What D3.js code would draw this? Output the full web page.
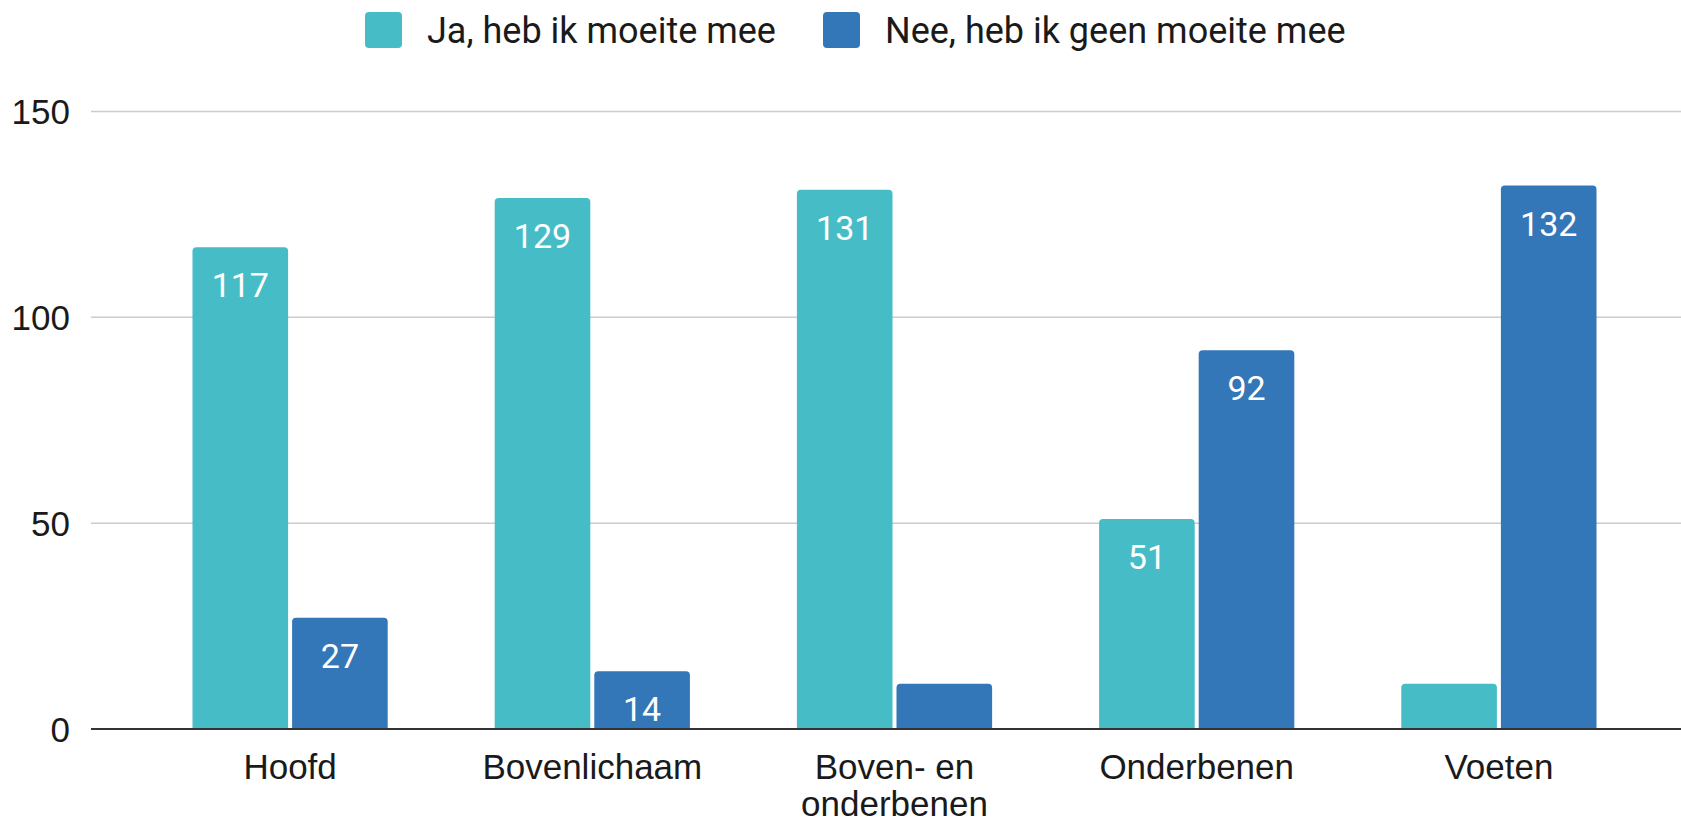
<!DOCTYPE html>
<html>
<head>
<meta charset="utf-8">
<script src="https://cdn.jsdelivr.net/npm/d3@7"></script>
<style>
  body { margin: 0; background: #fff; }
</style>
</head>
<body>
<div class="chart"></div>
<script>
const categories = ["Hoofd", "Bovenlichaam", "Boven- en onderbenen", "Onderbenen", "Voeten"];
const series = ["Ja, heb ik moeite mee", "Nee, heb ik geen moeite mee"];
const ja_values = [117, 129, 131, 51, 11];
const nee_values = [27, 14, 11, 92, 132];
const y_ticks = [0, 50, 100, 150];
// category labels broken over lines like the original
const label_lines = [["Hoofd"], ["Bovenlichaam"], ["Boven- en", "onderbenen"], ["Onderbenen"], ["Voeten"]];

const colors = ["#46bdc6", "#3377b9"];

const width = 1681;
const height = 825;
const svg = d3.select(".chart").append("svg").attr("width", width).attr("height", height);

const x_scale = d3.scaleBand().domain(categories).range([139, 1650]).paddingInner(0.354).paddingOuter(0.177);
const x_inner = d3.scaleBand().domain(series).range([0, x_scale.bandwidth()]).paddingInner(0.04);
const y_scale = d3.scaleLinear().domain([0, 150]).range([729, 111.5]);

// gridlines
svg.append("g")
    .selectAll("line")
    .data(y_ticks.filter(d => d > 0))
    .join("line")
    .attr("x1", 91)
    .attr("x2", width)
    .attr("y1", d => y_scale(d))
    .attr("y2", d => y_scale(d))
    .attr("stroke", "#cccccc")
    .attr("stroke-width", 1.5);

// y tick labels
svg.append("g")
    .selectAll("text")
    .data(y_ticks)
    .join("text")
    .attr("x", 70)
    .attr("y", d => y_scale(d))
    .attr("dy", "0.36em")
    .attr("text-anchor", "end")
    .attr("font-family", "Liberation Sans, Arial, sans-serif")
    .attr("font-size", 35)
    .attr("fill", "#1a1a1a")
    .text(d => d);

const rows = [];
categories.forEach((c, i) => {
    rows.push({cat: c, s: series[0], value: ja_values[i], color: colors[0]});
    rows.push({cat: c, s: series[1], value: nee_values[i], color: colors[1]});
});

svg.append("g")
    .selectAll("path")
    .data(rows)
    .join("path")
    .attr("d", d => {
        const x0 = x_scale(d.cat) + x_inner(d.s);
        const w = x_inner.bandwidth();
        const y0 = y_scale(d.value);
        const y1 = y_scale(0);
        const r = 4;
        return "M" + x0 + "," + y1 + "V" + (y0 + r) + "Q" + x0 + "," + y0 + " " + (x0 + r) + "," + y0 +
            "H" + (x0 + w - r) + "Q" + (x0 + w) + "," + y0 + " " + (x0 + w) + "," + (y0 + r) + "V" + y1 + "Z";
    })
    .attr("fill", d => d.color);

// value labels inside bars, only where they fit
svg.append("g")
    .selectAll("text")
    .data(rows.filter(d => y_scale(0) - y_scale(d.value) > 55))
    .join("text")
    .attr("x", d => x_scale(d.cat) + x_inner(d.s) + x_inner.bandwidth() / 2)
    .attr("y", d => y_scale(d.value) + 50)
    .attr("text-anchor", "middle")
    .attr("font-family", "Roboto, sans-serif")
    .attr("font-size", 34)
    .attr("fill", "white")
    .text(d => d.value);

// baseline
svg.append("line")
    .attr("x1", 91)
    .attr("x2", width)
    .attr("y1", y_scale(0))
    .attr("y2", y_scale(0))
    .attr("stroke", "#333")
    .attr("stroke-width", 2);

// x labels
const xl = svg.append("g")
    .selectAll("text")
    .data(categories)
    .join("text")
    .attr("x", d => x_scale(d) + x_scale.bandwidth() / 2)
    .attr("y", 779)
    .attr("text-anchor", "middle")
    .attr("font-family", "Liberation Sans, Arial, sans-serif")
    .attr("font-size", 35)
    .attr("fill", "#1a1a1a");
xl.selectAll("tspan")
    .data((d, i) => label_lines[i])
    .join("tspan")
    .attr("x", function () { return d3.select(this.parentNode).attr("x"); })
    .attr("dy", (d, i) => i === 0 ? 0 : 37)
    .text(d => d);

// legend
const legend_x = [365, 823];
const legend = svg.append("g")
    .selectAll("g")
    .data(series)
    .join("g")
    .attr("transform", (d, i) => 'translate(' + legend_x[i] + ', 12)');
legend.append("rect")
    .attr("width", 37)
    .attr("height", 36)
    .attr("rx", 4)
    .attr("fill", (d, i) => colors[i]);
legend.append("text")
    .attr("x", 62)
    .attr("y", 18)
    .attr("dy", "0.36em")
    .attr("font-family", "Roboto, sans-serif")
    .attr("font-size", 36)
    .attr("fill", "#1a1a1a")
    .text(d => d);
</script>
</body>
</html>
